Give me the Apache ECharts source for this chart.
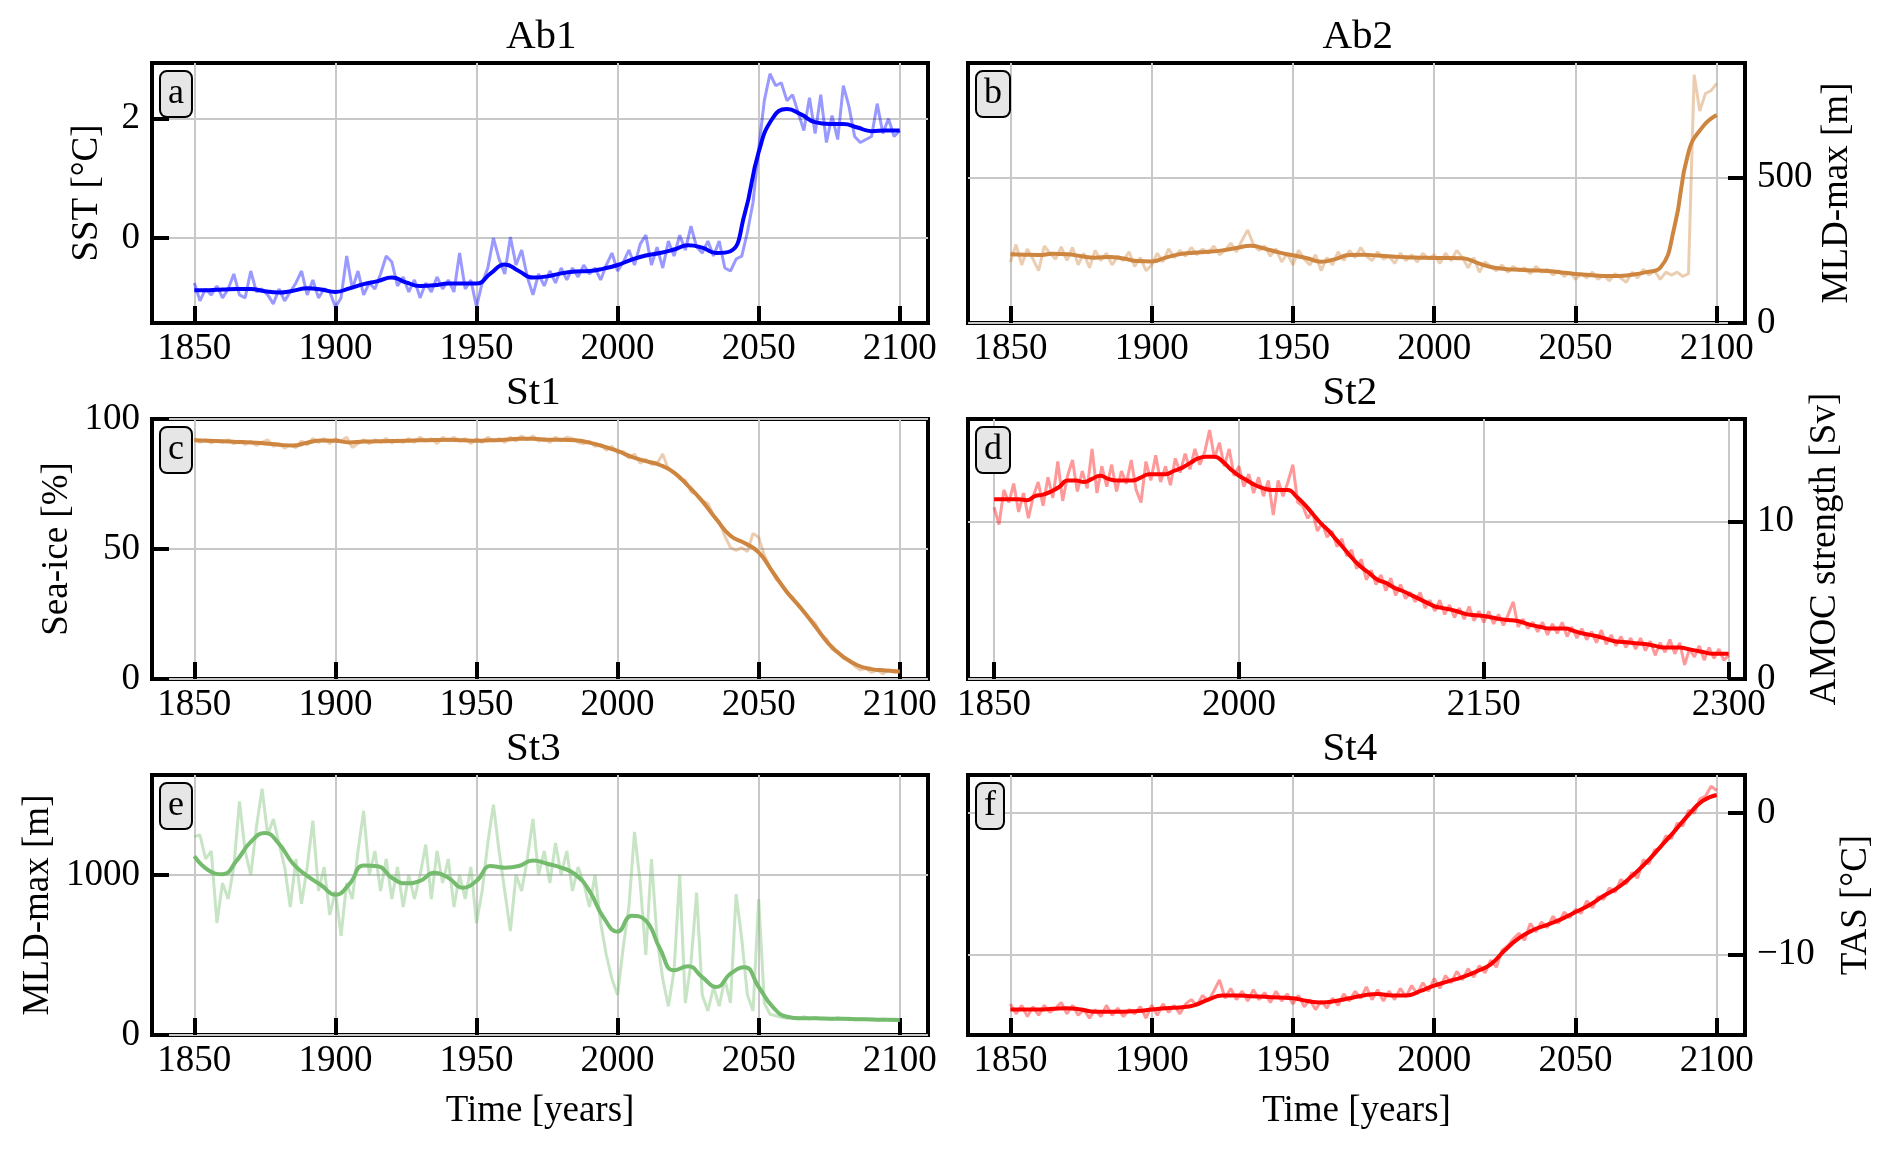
<!DOCTYPE html>
<html>
<head>
<meta charset="utf-8">
<title>Ab1 / Ab2 / St1-St4</title>
<script src="https://cdn.jsdelivr.net/npm/echarts@6/dist/echarts.min.js"></script>
<style>
  html, body { margin: 0; padding: 0; background: #fff; }
  #main { width: 1892px; height: 1150px; }
</style>
</head>
<body>
<div id="main"></div>
<script>
// ---- data ----
// raw (annual-ish) series sampled every 2 years 1850-2100, panel d every 3 years 1850-2300
// smoothed series sampled every 5 years

var sstRaw = [
  -0.75, -1.05, -0.85, -0.95, -0.8,   -1.0, -0.85, -0.6, -0.95, -1.0,
  -0.55, -0.9, -0.85, -0.95, -1.1,    -0.85, -1.05, -0.9, -0.75, -0.55,
  -0.95, -0.7, -1.0, -0.85, -0.9,     -1.15, -1.0, -0.3, -0.85, -0.55,
  -0.95, -0.75, -0.85, -0.6, -0.3,    -0.4, -0.8, -0.65, -0.9, -0.7,
  -1.0, -0.75, -0.9, -0.65, -0.85,    -0.7, -0.9, -0.25, -0.85, -0.7,
  -1.15, -0.75, -0.5, 0.0, -0.35,     -0.6, 0.02, -0.45, -0.2, -0.65,
  -0.95, -0.6, -0.8, -0.55, -0.75,    -0.5, -0.7, -0.5, -0.65, -0.45,
  -0.6, -0.5, -0.7, -0.45, -0.25,     -0.55, -0.4, -0.2, -0.45, -0.1,
  0.05, -0.45, -0.15, -0.5, -0.05,    -0.3, 0.05, -0.2, 0.2, -0.15,
  -0.25, -0.05, -0.3, -0.05, -0.5,    -0.55, -0.35, -0.3, 0.1, 0.6,
  1.5, 2.3, 2.75, 2.55, 2.6,          2.3, 2.4, 2.1, 1.8, 2.35,
  1.75, 2.4, 1.6, 2.05, 1.65,         2.55, 2.2, 1.7, 1.6, 1.65,
  1.7, 2.25, 1.75, 2.0, 1.7,
  1.8
];
var sstSmooth = [
  -0.87, -0.87, -0.86, -0.85, -0.85, -0.89, -0.91, -0.88, -0.84, -0.86,
  -0.90, -0.84, -0.77, -0.72, -0.66, -0.74, -0.80, -0.79, -0.76, -0.76,
  -0.76, -0.59, -0.44, -0.55, -0.66, -0.64, -0.59, -0.56, -0.55, -0.51,
  -0.45, -0.36, -0.29, -0.25, -0.19, -0.12, -0.16, -0.25, -0.22, 0.40,
  1.44, 2.01, 2.16, 2.07, 1.94, 1.91, 1.91, 1.85, 1.79, 1.80,
  1.80
];

var mldAbRaw = [
  210, 270, 200, 255, 220,   180, 265, 240, 220, 262,
  215, 260, 200, 240, 190,   250, 215, 240, 200, 230,
  215, 245, 195, 225, 180,   200, 240, 210, 255, 225,
  250, 230, 260, 235, 255,   240, 265, 235, 250, 275,
  245, 285, 320, 270, 250,   265, 230, 255, 210, 240,
  200, 250, 220, 200, 235,   180, 225, 200, 245, 215,
  250, 225, 260, 230, 215,   245, 220, 230, 205, 240,
  215, 235, 210, 240, 220,   235, 205, 240, 215, 250,
  225, 190, 225, 175, 210,   195, 180, 200, 175, 195,
  180, 190, 170, 195, 175,   185, 165, 180, 160, 175,
  150, 170, 155, 175, 150,   165, 145, 170, 155, 140,
  175, 155, 185, 165, 180,   150, 175, 165, 175, 160,
  170, 855, 730, 790, 800,
  825
];
var mldAbSmooth = [
  237, 235, 234, 238, 237, 230, 225, 227, 222, 213,
  212, 225, 237, 242, 245, 250, 258, 266, 256, 243,
  233, 223, 211, 220, 234, 235, 232, 229, 226, 225,
  224, 224, 223, 208, 193, 186, 183, 181, 179, 174,
  169, 165, 162, 162, 166, 175, 190, 330, 588, 675,
  716
];

var seaIceRaw = [
  92.5, 91.0, 92.0, 90.8, 91.8,   91.0, 92.0, 90.5, 91.5, 90.2,
  91.5, 89.8, 91.0, 92.0, 89.5,   90.5, 88.8, 90.0, 89.0, 91.5,
  90.0, 92.5, 91.0, 92.5, 90.5,   92.5, 91.5, 93.0, 89.0, 90.5,
  92.0, 90.5, 92.0, 91.0, 92.5,   90.8, 92.0, 91.0, 92.5, 91.0,
  93.0, 91.5, 92.5, 90.5, 93.0,   91.5, 93.0, 91.5, 92.5, 90.5,
  92.5, 91.0, 93.0, 91.5, 92.5,   91.0, 93.0, 91.5, 93.5, 92.0,
  93.5, 91.5, 92.5, 91.0, 93.0,   91.5, 93.0, 92.5, 91.0, 90.5,
  91.5, 89.5, 90.0, 88.0, 89.5,   87.0, 87.5, 85.0, 86.5, 83.0,
  84.5, 82.5, 83.0, 86.5, 80.5,   79.5, 77.0, 76.5, 72.0, 71.0,
  68.5, 67.5, 63.0, 60.5, 55.0,   50.5, 49.5, 50.5, 49.0, 56.0,
  54.5, 47.5, 43.0, 38.5, 36.5,   33.0, 31.5, 28.0, 26.0, 23.5,
  21.5, 17.0, 15.5, 11.5, 10.5,   8.0, 7.5, 5.0, 3.5, 4.0,
  2.5, 3.5, 2.0, 3.5, 2.5,
  3.0
];
var seaIceSmooth = [
  91.8, 91.6, 91.4, 91.2, 91.0, 90.6, 90.1, 89.8, 90.9, 91.7,
  91.6, 91.0, 91.3, 91.4, 91.5, 91.6, 91.8, 91.9, 92.0, 91.8,
  91.6, 91.8, 92.0, 92.4, 92.4, 92.0, 92.0, 91.8, 90.9, 89.5,
  87.7, 85.4, 83.8, 82.3, 79.4, 74.3, 68.4, 61.4, 55.1, 52.3,
  48.7, 41.1, 33.5, 27.2, 20.3, 13.3, 8.5, 5.3, 3.8, 3.3,
  2.9
];

var amocRaw = [
  10.9, 9.8, 12.0, 11.2, 12.4, 10.6, 11.8, 10.2, 11.6, 12.5,
  11.0, 12.8, 11.5, 13.8, 11.3, 12.9, 13.9, 11.9, 13.2, 12.1,
  14.6, 11.8, 13.5, 12.2, 13.6, 11.9, 13.2, 12.4, 13.9, 12.0,
  11.2, 13.8, 12.6, 14.2, 12.5, 13.5, 12.3, 14.0, 13.1, 14.3,
  13.3, 14.6, 13.6, 14.4, 15.8, 14.0, 15.0, 13.5, 14.6, 12.9,
  13.5, 12.2, 13.0, 11.8, 12.8, 11.6, 12.6, 10.4, 12.6, 11.6,
  12.5, 13.6, 11.2, 11.0, 10.2, 10.6, 9.4, 9.9, 9.0, 9.4,
  8.4, 8.9, 7.8, 8.2, 7.0, 7.6, 6.3, 6.9, 6.0, 6.6,
  5.6, 6.4, 5.3, 6.0, 5.1, 5.5, 4.9, 5.5, 4.5, 5.0,
  4.3, 5.0, 4.1, 4.7, 3.9, 4.5, 3.8, 4.6, 3.7, 4.3,
  3.6, 4.3, 3.5, 4.1, 3.4, 4.1, 4.9, 3.3, 3.8, 3.2,
  3.6, 3.0, 3.6, 2.8, 3.5, 2.9, 3.6, 2.7, 3.3, 2.6,
  3.2, 2.5, 3.0, 2.3, 3.1, 2.2, 2.8, 2.1, 2.7, 2.0,
  2.6, 1.9, 2.6, 1.8, 2.4, 1.5, 2.3, 1.7, 2.5, 1.6,
  2.3, 0.9, 1.9, 1.4, 2.1, 1.2, 2.0, 1.3, 1.9, 1.2,
  1.5
];
var amocSmooth = [
  11.4, 11.4, 11.4, 11.4, 11.35, 11.6, 11.7, 11.9, 12.2, 12.6,
  12.6, 12.5, 12.7, 12.9, 12.7, 12.6, 12.6, 12.6, 12.8, 13.0,
  13.0, 13.0, 13.2, 13.4, 13.7, 14.0, 14.1, 14.1, 13.8, 13.3,
  12.9, 12.6, 12.3, 12.1, 12.0, 12.0, 12.0, 11.6, 11.1, 10.5,
  9.9, 9.4, 8.8, 8.2, 7.6, 7.1, 6.7, 6.3, 6.1, 5.8,
  5.6, 5.35, 5.1, 4.85, 4.6, 4.5, 4.4, 4.25, 4.1, 4.05,
  4.0, 3.9, 3.8, 3.75, 3.7, 3.55, 3.4, 3.3, 3.2, 3.2,
  3.2, 3.05, 2.9, 2.8, 2.7, 2.55, 2.4, 2.35, 2.3, 2.25,
  2.2, 2.1, 2.0, 2.0, 2.0, 1.9, 1.8, 1.7, 1.6, 1.6,
  1.6
];

var mldStRaw = [
  1240, 1250, 1100, 1150, 700,   950, 850, 1050, 1460, 1150,
  1000, 1300, 1540, 1250, 1350,  1200, 1050, 800, 1100, 820,
  1050, 1340, 900, 1050, 750,    900, 620, 950, 850, 1150,
  1400, 1000, 1150, 900, 1100,   850, 1050, 800, 1000, 850,
  1000, 1190, 850, 1150, 950,    1100, 800, 1000, 850, 1050,
  700, 900, 1200, 1440, 1150,    900, 650, 1000, 900, 1100,
  1350, 1000, 1150, 950, 1200,   1000, 1150, 900, 1050, 950,
  800, 1000, 700, 500, 350,      250, 550, 800, 1270, 950,
  500, 1100, 600, 350, 180,      400, 1000, 200, 450, 890,
  250, 150, 300, 180, 350,       200, 880, 600, 250, 150,
  850, 200, 130, 120, 110,       105, 110, 100, 115, 100,
  110, 100, 105, 98, 108,        100, 105, 95, 102, 98,
  100, 95, 100, 95, 98,
  95
];
var mldStSmooth = [
  1118, 1030, 1005, 1090, 1207, 1263, 1195, 1070, 994, 936,
  876, 945, 1060, 1055, 983, 948, 963, 1014, 983, 921,
  963, 1056, 1046, 1056, 1091, 1070, 1046, 1004, 901, 735,
  646, 745, 715, 540, 404, 429, 362, 300, 383, 424,
  300, 176, 114, 104, 104, 102, 101, 99, 97, 95,
  93
];

var tasRaw = [
  -13.5, -14.2, -13.6, -14.4, -13.7,   -14.3, -13.6, -14.1, -13.8, -13.4,
  -14.2, -13.6, -14.3, -13.9, -14.5,   -13.9, -14.4, -13.6, -14.3, -13.8,
  -14.4, -13.9, -14.2, -13.7, -14.5,   -13.6, -14.3, -13.5, -14.1, -13.6,
  -14.2, -13.5, -13.2, -13.6, -12.9,   -13.3, -12.6, -11.8, -13.1, -12.4,
  -13.2, -12.6, -13.3, -12.5, -13.2,   -12.7, -13.4, -12.6, -13.3, -12.8,
  -13.5, -12.9, -13.7, -13.2, -13.9,   -13.3, -13.8, -13.1, -13.6, -12.8,
  -13.3, -12.6, -13.1, -12.3, -13.2,   -12.5, -13.3, -12.6, -13.2, -12.4,
  -13.0, -12.2, -12.8, -12.0, -12.6,   -11.7, -12.4, -11.5, -12.0, -11.2,
  -11.8, -11.0, -11.6, -10.8, -11.3,   -10.4, -10.9, -9.7, -9.4, -8.9,
  -8.5, -9.0, -7.8, -8.4, -7.7,        -8.1, -7.3, -7.8, -7.0, -7.4,
  -6.8, -7.1, -6.2, -6.7, -5.9,        -6.1, -5.3, -5.6, -4.7, -5.0,
  -4.2, -4.6, -3.3, -3.6, -2.6,        -2.5, -1.6, -1.8, -0.7, -0.9,
  0.2, 0.0, 1.0, 1.2, 1.9,
  1.6
];
var tasSmooth = [
  -13.9, -13.9, -13.9, -13.85, -13.8, -13.9, -14.05, -14.05, -14.05, -14.0,
  -13.9, -13.8, -13.75, -13.6, -13.2, -12.9, -12.9, -12.95, -13.0, -13.05,
  -13.1, -13.3, -13.4, -13.3, -13.1, -12.9, -12.8, -12.9, -12.9, -12.6,
  -12.2, -11.9, -11.6, -11.2, -10.7, -9.7, -8.85, -8.27, -7.9, -7.5,
  -7.0, -6.5, -5.85, -5.27, -4.45, -3.5, -2.4, -1.29, -0.12, 0.87,
  1.29
];

// tick labels
var yearTicks = [1850, 1900, 1950, 2000, 2050, 2100];
var yearTicksLong = [1850, 2000, 2150, 2300];
var sstTicks = [0, 2];
var mldAbTicks = [0, 500];
var seaIceTicks = [0, 50, 100];
var amocTicks = [0, 10];
var mldStTicks = [0, 1000];
var tasTicks = [-10, 0];

// ---- helpers ----
function span(a, b, step) {
  var out = [];
  for (var y = a; y <= b; y += step) out.push(y);
  return out;
}
function pairs(xs, ys) {
  return ys.map(function (v, i) { return [xs[i], v]; });
}

var rawYears = span(1850, 2100, 2);
var rawYearsLong = span(1850, 2300, 3);
var smYears = span(1850, 2100, 5);
var smYearsLong = span(1850, 2300, 5);

var FONT = 'Liberation Serif';
var COLW = 776, COLW2 = 777;
var ROWH = 260;
var tops = [63, 419, 775];

var panels = [
  { left: 152, top: tops[0], width: COLW, x: [1835, 2110], xt: yearTicks, y: [-1.42, 2.93], yt: sstTicks,
    side: 'left', yName: 'SST [°C]', yGap: 46, title: 'Ab1', letter: 'a',
    raw: pairs(rawYears, sstRaw), sm: pairs(smYears, sstSmooth), rawC: 'rgba(0,0,255,0.4)', smC: '#0000ff' },
  { left: 968, top: tops[0], width: COLW2, x: [1835, 2110], xt: yearTicks, y: [0, 895], yt: mldAbTicks,
    side: 'right', yName: 'MLD-max [m]', yGap: 74, title: 'Ab2', letter: 'b',
    raw: pairs(rawYears, mldAbRaw), sm: pairs(smYears, mldAbSmooth), rawC: 'rgba(205,133,63,0.4)', smC: '#cd853f' },
  { left: 152, top: tops[1], width: COLW, x: [1835, 2110], xt: yearTicks, y: [0, 100], yt: seaIceTicks,
    side: 'left', yName: 'Sea-ice [%]', yGap: 76, title: 'St1', letter: 'c',
    raw: pairs(rawYears, seaIceRaw), sm: pairs(smYears, seaIceSmooth), rawC: 'rgba(205,133,63,0.4)', smC: '#cd853f' },
  { left: 968, top: tops[1], width: COLW2, x: [1834, 2310], xt: yearTicksLong, y: [0, 16.5], yt: amocTicks,
    side: 'right', yName: 'AMOC strength [Sv]', yGap: 62, title: 'St2', letter: 'd',
    raw: pairs(rawYearsLong, amocRaw), sm: pairs(smYearsLong, amocSmooth), rawC: 'rgba(255,0,0,0.4)', smC: '#ff0000' },
  { left: 152, top: tops[2], width: COLW, x: [1835, 2110], xt: yearTicks, y: [0, 1625], yt: mldStTicks,
    side: 'left', yName: 'MLD-max [m]', yGap: 95, title: 'St3', letter: 'e', xName: 'Time [years]',
    raw: pairs(rawYears, mldStRaw), sm: pairs(smYears, mldStSmooth), rawC: 'rgba(116,187,110,0.4)', smC: '#74bb6e' },
  { left: 968, top: tops[2], width: COLW2, x: [1835, 2110], xt: yearTicks, y: [-15.7, 2.7], yt: tasTicks,
    side: 'right', yName: 'TAS [°C]', yGap: 93, title: 'St4', letter: 'f', xName: 'Time [years]',
    raw: pairs(rawYears, tasRaw), sm: pairs(smYears, tasSmooth), rawC: 'rgba(255,0,0,0.4)', smC: '#ff0000' }
];

function fmt(v) {
  return v < 0 ? '\u2212' + Math.abs(v) : String(v);
}

var grids = [], xAxes = [], yAxes = [], series = [], graphics = [];
panels.forEach(function (p, i) {
  grids.push({ left: p.left, top: p.top, width: p.width, height: ROWH,
    show: true, borderColor: '#000', borderWidth: 4, backgroundColor: 'transparent' });

  xAxes.push({
    gridIndex: i, type: 'value', min: p.x[0], max: p.x[1],
    axisLine: { show: false, onZero: false },
    axisTick: { show: true, inside: true, length: 17, customValues: p.xt, lineStyle: { color: '#000', width: 4 } },
    axisLabel: { customValues: p.xt, fontFamily: FONT, fontSize: 37, color: '#000', margin: 8, formatter: fmt },
    splitLine: { show: true, lineStyle: { color: '#c8c8c8', width: 2 } },
    name: p.xName || '', nameLocation: 'middle', nameGap: 58,
    nameTextStyle: { fontFamily: FONT, fontSize: 37, color: '#000' }
  });

  yAxes.push({
    gridIndex: i, type: 'value', min: p.y[0], max: p.y[1], position: p.side,
    axisLine: { show: false, onZero: false },
    axisTick: { show: true, inside: true, length: 17, customValues: p.yt, lineStyle: { color: '#000', width: 4 } },
    axisLabel: { customValues: p.yt, fontFamily: FONT, fontSize: 37, color: '#000', margin: 12, formatter: fmt },
    splitLine: { show: true, lineStyle: { color: '#c8c8c8', width: 2 } },
    name: p.yName, nameLocation: 'middle', nameRotate: 90, nameGap: p.yGap,
    nameTextStyle: { fontFamily: FONT, fontSize: 37, color: '#000' }
  });

  series.push({
    type: 'line', xAxisIndex: i, yAxisIndex: i, data: p.raw,
    showSymbol: false, silent: true, z: 2,
    lineStyle: { color: p.rawC, width: 3 }, itemStyle: { color: p.rawC }
  });
  series.push({
    type: 'line', xAxisIndex: i, yAxisIndex: i, data: p.sm,
    showSymbol: false, silent: true, z: 3, smooth: 0.5,
    lineStyle: { color: p.smC, width: 4 }, itemStyle: { color: p.smC }
  });

  // panel title and letter box
  graphics.push({
    type: 'text', left: p.left + p.width / 2 - 34, top: p.top - 46, z: 10,
    style: { text: p.title, font: '41px "' + FONT + '"', fill: '#000' }
  });
  graphics.push({
    type: 'text', left: p.left + 7, top: p.top + 7, z: 10,
    style: {
      text: p.letter, font: '36px "' + FONT + '"', fill: '#000',
      backgroundColor: '#e6e6e6', borderColor: '#000', borderWidth: 2, borderRadius: 6,
      padding: [4, 7, 4, 7]
    }
  });
});

var chart = echarts.init(document.getElementById('main'));
chart.setOption({
  animation: false,
  backgroundColor: '#fff',
  grid: grids,
  xAxis: xAxes,
  yAxis: yAxes,
  series: series,
  graphic: graphics
});
</script>
</body>
</html>
